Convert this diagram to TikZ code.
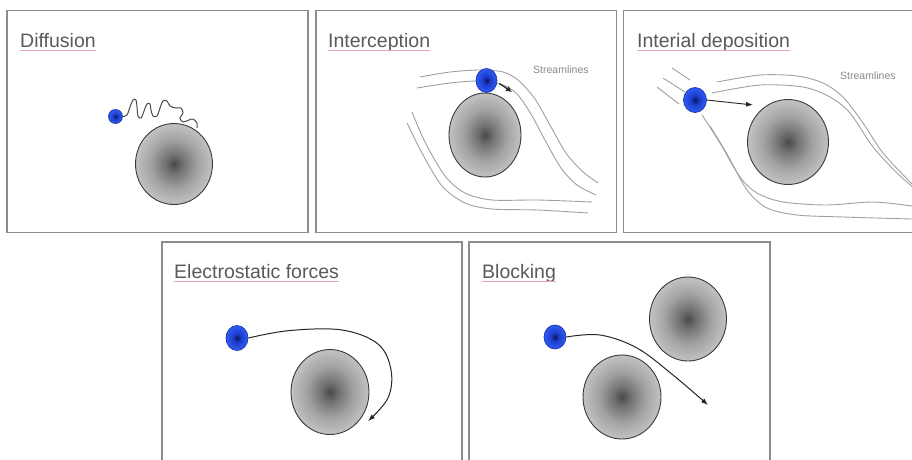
\documentclass[tikz,border=0pt]{standalone}
\usepackage{fontspec}
\setmainfont{Liberation Sans}
\usetikzlibrary{shapes.geometric,arrows.meta}

% palette
\definecolor{framegray}{HTML}{8C8C8C}
\definecolor{titlegray}{HTML}{5A5A5A}
\definecolor{labelgray}{HTML}{8A8A8A}
\definecolor{spellpink}{HTML}{E8A6AC}
\definecolor{streamgray}{HTML}{A0A0A0}
\definecolor{fibrecore}{HTML}{4A4A4A}
\definecolor{fibreinner}{HTML}{737373}
\definecolor{fibremid}{HTML}{A2A2A2}
\definecolor{fibreedge}{HTML}{C2C2C2}
\definecolor{fibreline}{HTML}{3A3A3A}
\definecolor{dotcore}{HTML}{0A1450}
\definecolor{dotmid}{HTML}{1C3CCC}
\definecolor{dotedge}{HTML}{2F5CF2}
\definecolor{dotline}{HTML}{1A36B0}
\definecolor{pathgray}{HTML}{4A4A4A}

% fibre and particle gradients
\pgfdeclareradialshading{fibreshade}{\pgfpoint{0bp}{0bp}}{%
  color(0bp)=(fibrecore); color(6bp)=(fibreinner); color(15bp)=(fibremid);
  color(25bp)=(fibreedge); color(50bp)=(fibreedge)}
\pgfdeclareradialshading{dotshade}{\pgfpoint{0bp}{0bp}}{%
  color(0bp)=(dotcore); color(9bp)=(dotmid); color(25bp)=(dotedge); color(50bp)=(dotedge)}

\tikzset{
  panel/.style={draw=framegray, line width=1.5pt},
  title/.style={anchor=base west, inner sep=0pt, text=titlegray,
    font=\fontsize{19.5}{22}\selectfont},
  tag/.style={anchor=base west, inner sep=0pt, text=labelgray,
    font=\fontsize{10.5}{12}\selectfont},
  spell/.style={draw=spellpink, line width=0.6pt},
  fibre/.style={ellipse, draw=fibreline, line width=0.9pt, shading=fibreshade,
    inner sep=0pt},
  particle/.style={ellipse, draw=dotline, line width=0.7pt, shading=dotshade,
    inner sep=0pt},
  stream/.style={draw=streamgray, line width=0.9pt},
  motion/.style={draw=pathgray, line width=1pt},
  track/.style={draw=black!85, line width=1pt,
    -{Latex[length=7pt,width=5pt]}},
}

\begin{document}
\begin{tikzpicture}[x=1pt, y=-1pt]
\useasboundingbox (0,0) rectangle (912,459);
\clip (0,0) rectangle (912,459);
\fill[white] (0,0) rectangle (912,459);

% ---------- frames ----------
\draw[panel] (7,10.5) rectangle (308,232.5);
\draw[panel] (316,10.5) rectangle (616.5,232.5);
\draw[panel] (623.5,10.5) rectangle (920,232.5);
\draw[panel] (162,242) rectangle (462,470);
\draw[panel] (469,242) rectangle (770,470);

% ---------- Diffusion ----------
\node[title] (t1) at (20,47) {Diffusion};
\draw[spell] ([yshift=-3pt]t1.base west) -- ([yshift=-3pt]t1.base east);
\node[fibre, minimum width=77pt, minimum height=81pt] (d-fibre) at (174,164) {};
\coordinate (d-hit) at (197,128);
\node[particle, minimum width=14pt, minimum height=14pt] (d-dot) at (115.5,116.5) {};
\draw[motion] plot[smooth, tension=0.55] coordinates {
  (d-dot.east) (127,115) (130,107) (133,100) (136,100) (137,107) (138,116)
  (141,118) (144,111) (147,104) (150,104) (151,110) (153,116) (157,116)
  (160,108) (163,101) (167,101) (170,106) (176,108) (181,108) (183,113)
  (180,118) (183,122) (189,120) (193,119) (197,123) (d-hit)};

% ---------- Interception ----------
\node[title] (t2) at (328,47) {Interception};
\draw[spell] ([yshift=-3pt]t2.base west) -- ([yshift=-3pt]t2.base east);
\node[tag] (s2) at (533,73) {Streamlines};
\draw[stream] plot[smooth] coordinates {(420,77) (450,72) (480,70) (503,72)
  (518,80) (535,99) (551,127) (566,153) (582,171) (598,183)};
\draw[stream] plot[smooth] coordinates {(417,88) (450,83) (480,81) (503,85)
  (517,94) (531,114) (546,142) (561,168) (577,185) (596,195)};
\draw[stream] plot[smooth] coordinates {(412,112) (425,142) (445,176)
  (465,193) (492,200) (538,200) (592,202)};
\draw[stream] plot[smooth] coordinates {(407,123) (422,153) (442,186)
  (465,203) (492,209) (538,210) (588,213)};
\node[fibre, minimum width=72pt, minimum height=84pt] (i-fibre) at (485,135) {};
\node[particle, minimum width=21pt, minimum height=24pt] (i-dot) at (486.5,80.5) {};
\coordinate (i-end) at (512,92);
\draw[track, line width=1.3pt, -{Latex[length=6pt,width=6pt]}]
  ([xshift=2pt,yshift=-3pt]i-dot.east) -- (i-end);

% ---------- Interial deposition ----------
\node[title] (t3) at (637,47) {Interial deposition};
\draw[spell] ([yshift=-3pt]t3.base west) -- ([yshift=-3pt]t3.base east);
\node[tag] (s3) at (840,79) {Streamlines};
\draw[stream] (672,68) -- (690,80);
\draw[stream] (663,78) -- (685,92);
\draw[stream] (657,87) -- (679,104);
\draw[stream] plot[smooth] coordinates {(717,82) (760,75) (797,76) (823,83)
  (843,97) (863,123) (883,153) (912,184)};
\draw[stream] plot[smooth] coordinates {(712,93) (760,85) (803,87) (830,97)
  (850,113) (873,147) (897,173) (914,188)};
\draw[stream] plot[smooth] coordinates {(702,115) (720,143) (740,177)
  (757,193) (783,202) (827,205) (873,202) (912,206)};
\draw[stream] plot[smooth] coordinates {(710,126) (727,154) (747,190)
  (767,208) (797,215) (843,217) (912,219)};
\node[fibre, minimum width=81pt, minimum height=85pt] (p-fibre) at (788,142) {};
\node[particle, minimum width=23pt, minimum height=25pt] (p-dot) at (695,100) {};
\coordinate (p-end) at (753,105);
\draw[track, line width=0.9pt] (p-dot.east) -- (p-end);

% ---------- Electrostatic forces ----------
\node[title] (t4) at (174,278) {Electrostatic forces};
\draw[spell] ([yshift=-3pt]t4.base west) -- ([yshift=-3pt]t4.base east);
\node[fibre, minimum width=78pt, minimum height=85pt] (e-fibre) at (330,392) {};
\node[particle, minimum width=22pt, minimum height=25pt] (e-dot) at (237,338) {};
\coordinate (e-end) at (368,421);
\draw[track] plot[smooth, tension=0.6] coordinates {(e-dot.east) (290,330.5)
  (342,330) (378,344) (391,370) (388,398) (e-end)};

% ---------- Blocking ----------
\node[title] (t5) at (482,278) {Blocking};
\draw[spell] ([yshift=-3pt]t5.base west) -- ([yshift=-3pt]t5.base east);
\node[fibre, minimum width=77pt, minimum height=84pt] (b-fibre1) at (688,319) {};
\node[fibre, minimum width=78pt, minimum height=84pt] (b-fibre2) at (622,397) {};
\node[particle, minimum width=22pt, minimum height=24pt] (b-dot) at (555,337) {};
\coordinate (b-end) at (708,405);
\draw[track] plot[smooth, tension=0.6] coordinates {(b-dot.east) (600,335)
  (637,348) (673,375) (b-end)};
\end{tikzpicture}
\end{document}
